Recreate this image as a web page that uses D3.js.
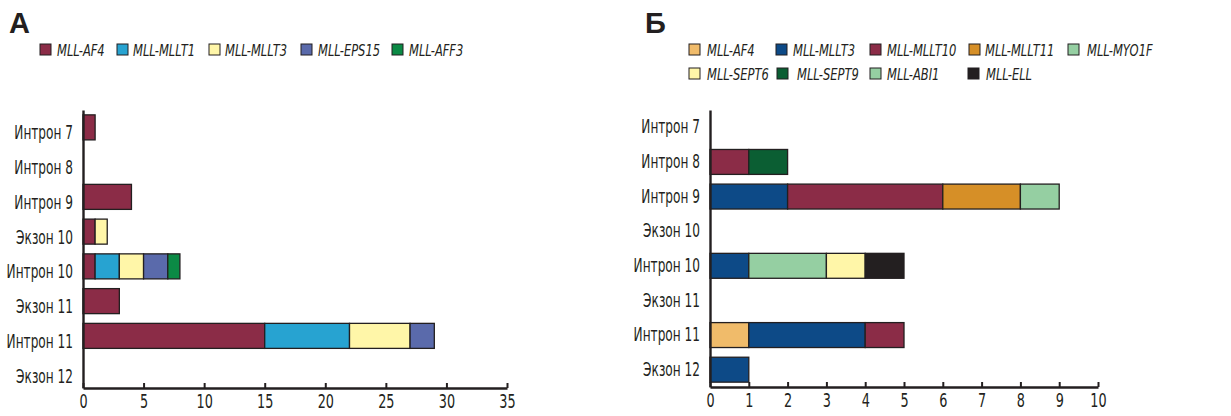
<!DOCTYPE html>
<html>
<head>
<meta charset="utf-8">
<script src="https://cdn.jsdelivr.net/npm/d3@7"></script>
<style>
  body { margin: 0; background: #fff; }
  svg { display: block; }
  text { fill: #231f20; font-family: "DejaVu Sans Condensed", "DejaVu Sans", sans-serif; }
</style>
</head>
<body>
<svg width="1231" height="416"></svg>
<script>
(function (d3) {
    'use strict';

    // rows, top to bottom
    const categories = ['Интрон 7', 'Интрон 8', 'Интрон 9', 'Экзон 10',
                        'Интрон 10', 'Экзон 11', 'Интрон 11', 'Экзон 12'];

    // panel A
    const keysA = ['MLL-AF4', 'MLL-MLLT1', 'MLL-MLLT3', 'MLL-EPS15', 'MLL-AFF3'];
    const colorsA = ['#8b2c47', '#27a3d1', '#fff6a8', '#5a6aab', '#0b8a45'];
    const af4A   = [1, 0, 4, 1, 1, 3, 15, 0];
    const mllt1A = [0, 0, 0, 0, 2, 0, 7, 0];
    const mllt3A = [0, 0, 0, 1, 2, 0, 5, 0];
    const eps15A = [0, 0, 0, 0, 2, 0, 2, 0];
    const aff3A  = [0, 0, 0, 0, 1, 0, 0, 0];
    const ticksA = [0, 5, 10, 15, 20, 25, 30, 35];

    // panel Б
    const keysB = ['MLL-AF4', 'MLL-MLLT3', 'MLL-MLLT10', 'MLL-MLLT11', 'MLL-MYO1F',
                   'MLL-SEPT6', 'MLL-SEPT9', 'MLL-ABI1', 'MLL-ELL'];
    const colorsB = ['#f0bb6a', '#0d4a87', '#8b2c47', '#d68f27', '#95cfa2',
                     '#fff6a8', '#0b5e33', '#95cfa2', '#231f20'];
    const af4B    = [0, 0, 0, 0, 0, 0, 1, 0];
    const mllt3B  = [0, 0, 2, 0, 1, 0, 3, 1];
    const mllt10B = [0, 1, 4, 0, 0, 0, 1, 0];
    const mllt11B = [0, 0, 2, 0, 0, 0, 0, 0];
    const myo1fB  = [0, 0, 1, 0, 0, 0, 0, 0];
    const sept6B  = [0, 0, 0, 0, 1, 0, 0, 0];
    const sept9B  = [0, 1, 0, 0, 0, 0, 0, 0];
    const abi1B   = [0, 0, 0, 0, 2, 0, 0, 0];
    const ellB    = [0, 0, 0, 0, 1, 0, 0, 0];
    const ticksB = [0, 1, 2, 3, 4, 5, 6, 7, 8, 9, 10];
    // stacking order seen in the bars
    const stackOrderB = ['MLL-AF4', 'MLL-MLLT3', 'MLL-MLLT10', 'MLL-MLLT11', 'MLL-MYO1F',
                         'MLL-ABI1', 'MLL-SEPT6', 'MLL-SEPT9', 'MLL-ELL'];

    const ink = '#231f20';
    const svg = d3.select('svg');

    // no condensed Myriad here, so squeeze DejaVu Condensed sideways
    const squeeze = (sel, sx) => sel.each(function () {
        const t = d3.select(this);
        const x0 = +t.attr('x') || 0;
        t.attr('x', x0 / sx).attr('transform', `scale(${sx},1)`);
    });

    const buildRows = (keys, series) => categories.map((c, i) => {
        const row = { cat: c };
        keys.forEach((k, j) => { row[k] = series[j][i]; });
        return row;
    });

    const panel = (props) => {
        const { letter, letterX, keys, colors, series, order, maxX, ticks,
                x0, x1, y0, y1, labelShift, legendItems } = props;
        const color = d3.scaleOrdinal().domain(keys).range(colors);
        const rows = buildRows(keys, series);

        const x = d3.scaleLinear().domain([0, maxX]).range([x0, x1]);
        const y = d3.scaleBand().domain(categories).range([y0, y1]).paddingInner(0.28).paddingOuter(0.14);

        svg.append('text')
            .attr('x', letterX).attr('y', 33)
            .style('font-family', '"Liberation Sans", "DejaVu Sans", sans-serif')
            .style('font-weight', 'bold').style('font-size', '29px')
            .text(letter);

        // legend
        const lg = svg.append('g');
        const item = lg.selectAll('g').data(legendItems).enter().append('g')
            .attr('transform', d => `translate(${d.x}, ${d.y})`);
        item.append('rect')
            .attr('x', 0).attr('y', -6).attr('width', 11).attr('height', 11)
            .attr('fill', d => color(d.key))
            .attr('stroke', ink).attr('stroke-width', 1);
        item.append('text')
            .attr('x', d => d.tx).attr('dy', '0.35em')
            .style('font-style', 'italic').style('font-size', '16px')
            .text(d => d.key)
            .call(squeeze, 0.8);

        // bars
        const stacked = d3.stack().keys(order || keys)(rows);
        svg.append('g').selectAll('g').data(stacked).enter().append('g')
            .attr('fill', d => color(d.key))
          .selectAll('rect').data(d => d.filter(s => s[1] > s[0])).enter().append('rect')
            .attr('x', d => x(d[0]))
            .attr('y', d => y(d.data.cat))
            .attr('width', d => x(d[1]) - x(d[0]))
            .attr('height', y.bandwidth())
            .attr('stroke', ink).attr('stroke-width', 1.3);

        // axes
        const xAxis = svg.append('g')
            .attr('transform', `translate(0, ${y1})`)
            .call(d3.axisBottom(x).tickValues(ticks).tickSize(-5).tickSizeOuter(0).tickPadding(7));
        xAxis.select('.domain').attr('stroke', ink).attr('stroke-width', 2.4);
        xAxis.selectAll('.tick line').attr('stroke', ink).attr('stroke-width', 2);
        xAxis.selectAll('.tick text').attr('fill', ink)
            .style('font-family', '"DejaVu Sans Condensed", "DejaVu Sans", sans-serif')
            .style('font-size', '19px')
            .call(squeeze, 0.75);

        const yAxis = svg.append('g')
            .attr('transform', `translate(${x0}, 0)`)
            .call(d3.axisLeft(y).tickSize(0).tickSizeOuter(0).tickPadding(10));
        yAxis.select('.domain').attr('stroke', ink).attr('stroke-width', 2.4);
        yAxis.selectAll('.tick text').attr('fill', ink)
            .attr('y', labelShift)
            .style('font-family', '"DejaVu Sans Condensed", "DejaVu Sans", sans-serif')
            .style('font-size', '19px')
            .call(squeeze, 0.71);
    };

    panel({
        letter: 'А', letterX: 9,
        keys: keysA, colors: colorsA,
        series: [af4A, mllt1A, mllt3A, eps15A, aff3A],
        maxX: 35, ticks: ticksA,
        x0: 83, x1: 507, y0: 110, y1: 388, labelShift: 6,
        legendItems: [
            { key: 'MLL-AF4',   x: 40,  y: 50, tx: 17 },
            { key: 'MLL-MLLT1', x: 117, y: 50, tx: 16 },
            { key: 'MLL-MLLT3', x: 209, y: 50, tx: 16 },
            { key: 'MLL-EPS15', x: 301, y: 50, tx: 17 },
            { key: 'MLL-AFF3',  x: 392, y: 50, tx: 17 }
        ]
    });

    panel({
        letter: 'Б', letterX: 645,
        keys: keysB, colors: colorsB,
        series: [af4B, mllt3B, mllt10B, mllt11B, myo1fB, sept6B, sept9B, abi1B, ellB],
        order: stackOrderB,
        maxX: 10, ticks: ticksB,
        x0: 710, x1: 1098, y0: 110, y1: 387, labelShift: 0,
        legendItems: [
            { key: 'MLL-AF4',    x: 689,  y: 50, tx: 18 },
            { key: 'MLL-MLLT3',  x: 776,  y: 50, tx: 17 },
            { key: 'MLL-MLLT10', x: 870,  y: 50, tx: 17 },
            { key: 'MLL-MLLT11', x: 969,  y: 50, tx: 16 },
            { key: 'MLL-MYO1F',  x: 1068, y: 50, tx: 19 },
            { key: 'MLL-SEPT6',  x: 689,  y: 74, tx: 18 },
            { key: 'MLL-SEPT9',  x: 777,  y: 74, tx: 20 },
            { key: 'MLL-ABI1',   x: 870,  y: 74, tx: 17 },
            { key: 'MLL-ELL',    x: 968,  y: 74, tx: 18 }
        ]
    });
}(d3));
</script>
</body>
</html>
